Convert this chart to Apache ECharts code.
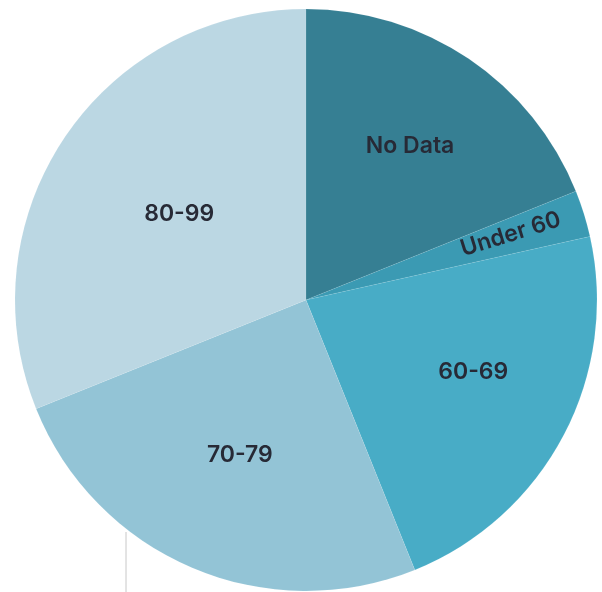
<!DOCTYPE html>
<html>
<head>
<meta charset="utf-8">
<script src="https://cdn.jsdelivr.net/npm/echarts@6/dist/echarts.min.js"></script>
<style>
html,body{margin:0;padding:0;background:#fff;}
#chart{width:602px;height:592px;}
</style>
</head>
<body>
<div id="chart"></div>
<script>
const categories = ['No Data', 'Under 60', '60-69', '70-79', '80-99'];
const values = [18.9, 2.6, 22.4, 25.0, 31.1];
const colors = ['#367f93', '#3b9ab3', '#48acc6', '#93c4d6', '#bbd7e3'];

const CX = 306, CY = 300, R = 291;
// label placement style: distance from centre and angular nudge (degrees)
const labelRadius = [186, 215, 182, 169, 153];
const labelNudge = [0, -0.5, -4.5, 0, 0];

const total = values.reduce((a, b) => a + b, 0);
const midAngles = [];
let acc = 0;
values.forEach(v => { midAngles.push((acc + v / 2) / total * 360); acc += v; });

const chart = echarts.init(document.getElementById('chart'), null, {renderer: 'canvas'});
const sliceData = categories.map((c, i) => ({
  name: c, value: values[i], itemStyle: {color: colors[i]},
  label: c === 'Under 60' ? {rotate: 'radial'} : {}
}));

chart.setOption({
  animation: false,
  series: [
    {
      type: 'pie',
      center: [CX, CY],
      radius: [0, R],
      startAngle: 90,
      clockwise: true,
      data: sliceData,
      label: {
        show: true,
        position: 'inside',
        formatter: '{b}',
        color: '#272a36',
        fontFamily: 'Inter',
        fontWeight: 600,
        fontSize: 23
      },
      labelLine: {show: false},
      labelLayout: function (p) {
        const i = p.dataIndex;
        const a = (midAngles[i] + labelNudge[i]) * Math.PI / 180;
        return {
          x: CX + labelRadius[i] * Math.sin(a),
          y: CY - labelRadius[i] * Math.cos(a)
        };
      },
      itemStyle: {borderColor: 'rgba(255,255,255,0.12)', borderWidth: 0.6},
      emphasis: {disabled: true},
      silent: true
    }
  ],
  graphic: [{
    type: 'line',
    shape: {x1: 126, y1: 532, x2: 126, y2: 592},
    style: {stroke: '#c8c8c8', lineWidth: 1}
  }]
});
</script>
</body>
</html>
